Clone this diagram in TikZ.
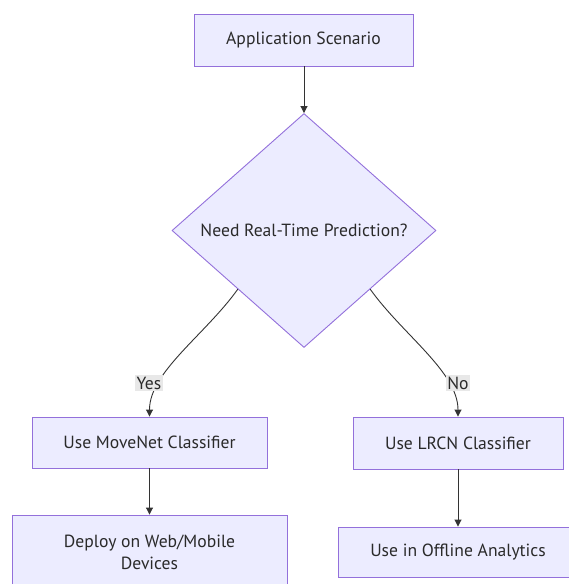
\documentclass[tikz,border=0pt]{standalone}
\usepackage{fontspec}
\setmainfont{PT Sans}
\usetikzlibrary{shapes.geometric,arrows.meta,positioning}
\definecolor{nodefill}{HTML}{ECECFF}
\definecolor{nodeline}{HTML}{9370DB}
\definecolor{edgecol}{HTML}{333333}
\definecolor{txtcol}{HTML}{2A2A2A}
\definecolor{lblbg}{HTML}{E8E8E8}
\begin{document}
\begin{tikzpicture}[x=1pt,y=-1pt,
  font=\fontsize{17.6}{22}\selectfont,
  box/.style={draw=nodeline,fill=nodefill,line width=0.9pt,text=txtcol,inner sep=0pt,align=center},
  dec/.style={diamond,draw=nodeline,fill=nodefill,line width=0.9pt,text=txtcol,inner sep=0pt,minimum width=264pt,minimum height=234pt},
  edge/.style={draw=edgecol,line width=0.9pt,-{Triangle[length=7pt,width=7pt]}},
  lbl/.style={fill=lblbg,text=txtcol,inner sep=1.5pt}]
\useasboundingbox (0,0) rectangle (569,584);
\node[box,minimum width=219pt,minimum height=52pt] (a) at (303.5,40) {Application Scenario};
\node[dec] (d) at (304,230.5) {Need Real-Time Prediction?};
\node[box,minimum width=235pt,minimum height=51pt] (m) at (149.5,442.5) {Use MoveNet Classifier};
\node[box,minimum width=210pt,minimum height=52pt] (l) at (458,443) {Use LRCN Classifier};
\node[box,minimum width=275pt,minimum height=74pt] (w) at (149.5,552) {Deploy on Web/Mobile\\Devices};
\node[box,minimum width=240pt,minimum height=50pt] (o) at (458,552) {Use in Offline Analytics};
\draw[edge] (d.north |- a.south) -- (d.north);
\draw[edge] (d.south west) .. controls (205,335) and (149.5,372) .. (m.north);
\draw[edge] (d.south east) .. controls (403,335) and (458,372) .. (l.north);
\node[lbl] (yes) at (149,383) {Yes};
\node[lbl] (no) at (458,383) {No};
\draw[edge] (m.south) -- (w.north);
\draw[edge] (l.south) -- (o.north);
\end{tikzpicture}
\end{document}
